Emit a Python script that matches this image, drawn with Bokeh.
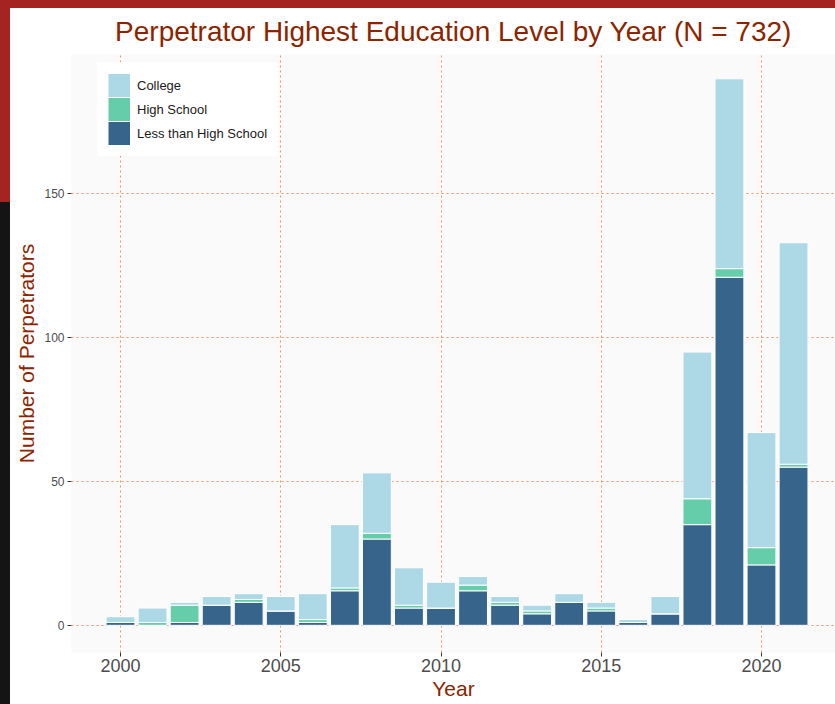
from bokeh.plotting import figure
from bokeh.models import ColumnDataSource, Range1d, FixedTicker, Legend, LegendItem
from bokeh.embed import file_html
from bokeh.resources import INLINE

# ---- data ----
years = [2000, 2001, 2002, 2003, 2004, 2005, 2006, 2007, 2008, 2009, 2010,
         2011, 2012, 2013, 2014, 2015, 2016, 2017, 2018, 2019, 2020, 2021]
less_than_hs = [1, 0, 1, 7, 8, 5, 1, 12, 30, 6, 6, 12, 7, 4, 8, 5, 1, 4, 35, 121, 21, 55]
high_school = [0, 1, 6, 0, 1, 0, 1, 1, 2, 1, 0, 2, 1, 1, 0, 1, 0, 0, 9, 3, 6, 1]
college = [2, 5, 1, 3, 2, 5, 9, 22, 21, 13, 9, 3, 2, 2, 3, 2, 1, 6, 51, 66, 40, 77]

categories = ["Less than High School", "High School", "College"]
colors = ["#36648B", "#66CDAA", "#ADD8E6"]
x_ticks = [2000, 2005, 2010, 2015, 2020]
y_ticks = [0, 50, 100, 150]

title_text = "Perpetrator Highest Education Level by Year (N = 732)"

FONT = "Liberation Sans"
RED = "#8B2500"

source = ColumnDataSource(dict(year=years, lhs=less_than_hs, hs=high_school, college=college))

p = figure(width=825, height=696, output_backend="svg", toolbar_location=None,
           x_range=Range1d(1998.471, 2022.309), y_range=Range1d(-9.45, 198.45),
           min_border_left=61, min_border_right=0, min_border_top=46, min_border_bottom=52,
           background_fill_color="#FAFAFA", border_fill_color="white",
           styles={"margin-top": "8px", "margin-left": "10px",
                   "box-shadow": "-10px 194px 0 0 #141414, 0 -8px 0 0 #A52422, -10px -8px 0 0 #A52422"})
p.outline_line_color = None

p.title.text = title_text
p.title.text_font = FONT
p.title.text_font_size = "28px"
p.title.text_font_style = "normal"
p.title.text_color = RED
p.title.align = "center"
p.title.vertical_align = "top"
p.title.standoff = 12

rs = p.vbar_stack(["lhs", "hs", "college"], x="year", width=0.9, color=colors,
                  line_color="white", line_width=1, source=source)

# legend keys: full-size colour swatches (thick line keys that draw nothing in the plot)
nan = float("nan")
keys = [p.line(x=[nan], y=[nan], line_color=c, line_width=23) for c in colors]

legend = Legend(items=[LegendItem(label="College", renderers=[keys[2]]),
                       LegendItem(label="High School", renderers=[keys[1]]),
                       LegendItem(label="Less than High School", renderers=[keys[0]])],
                location=(26, 496))
legend.label_text_font = FONT
legend.label_text_font_size = "13px"
legend.label_text_color = "#1A1A1A"
legend.background_fill_color = "white"
legend.background_fill_alpha = 1
legend.border_line_color = "white"
legend.border_line_width = 1
legend.padding = 10
legend.spacing = 0
legend.glyph_width = 22
legend.glyph_height = 24
legend.label_standoff = 7
legend.margin = 0
p.add_layout(legend)

for g in (p.xgrid, p.ygrid):
    g.grid_line_color = "#FF7F50"
    g.grid_line_dash = "2 3"
    g.grid_line_width = 1
    g.grid_line_alpha = 0.9
    g.minor_grid_line_color = None

p.xaxis.ticker = FixedTicker(ticks=x_ticks)
p.yaxis.ticker = FixedTicker(ticks=y_ticks)

for ax in (p.xaxis, p.yaxis):
    ax.axis_line_color = None
    ax.major_tick_line_color = "#333333"
    ax.major_tick_out = 4
    ax.major_tick_in = 0
    ax.minor_tick_line_color = None
    ax.major_label_text_font = FONT
    ax.major_label_text_color = "#4D4D4D"
    ax.axis_label_text_font = FONT
    ax.axis_label_text_font_style = "normal"
    ax.axis_label_text_color = RED
    ax.axis_label_text_font_size = "21px"

p.xaxis.axis_label = "Year"
p.yaxis.axis_label = "Number of Perpetrators"
p.xaxis.major_label_text_font_size = "18px"
p.yaxis.major_label_text_font_size = "12px"
p.xaxis.major_label_standoff = 2
p.yaxis.major_label_standoff = 3
p.xaxis.axis_label_standoff = 2
p.yaxis.axis_label_standoff = 3

open("out.html", "w").write(file_html(p, INLINE))
